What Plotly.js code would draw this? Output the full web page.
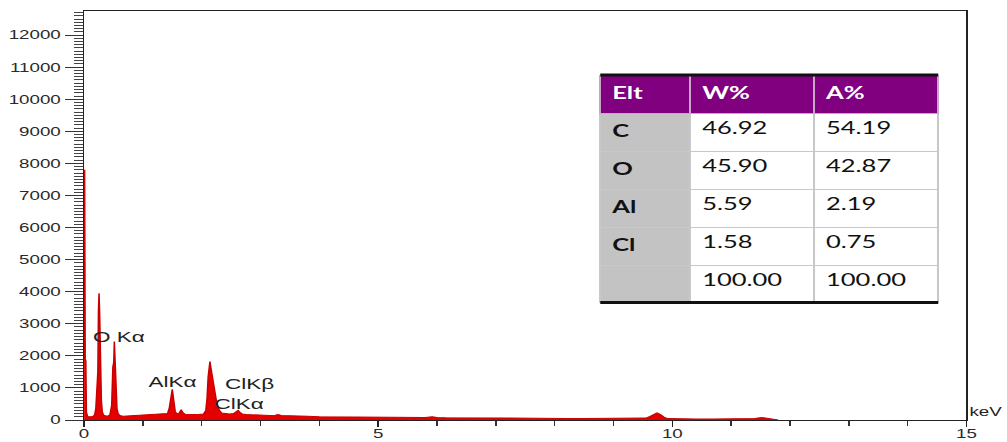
<!DOCTYPE html>
<html>
<head>
<meta charset="utf-8">
<script src="https://cdn.plot.ly/plotly-3.0.1.min.js"></script>
<style>
  html, body { margin: 0; padding: 0; background: #fff; overflow: hidden; }
  #wrap { width: 1007px; height: 442px; overflow: hidden; }
  /* the spectrum is laid out narrow and widened horizontally */
  #chart { width: 671px; height: 442px; transform: scaleX(1.5007); transform-origin: 0 0; }
</style>
</head>
<body>
<div id="wrap"><div id="chart"></div></div>
<script>
// EDS spectrum: energy (keV) and counts
const energyKeV = [
  0.00, 0.01, 0.02, 0.03, 0.04, 0.06, 0.09, 0.12, 0.15, 0.18,
  0.20, 0.22, 0.235, 0.245, 0.255, 0.265, 0.275, 0.285, 0.295, 0.31,
  0.33, 0.36, 0.40, 0.44, 0.47, 0.49, 0.505, 0.515, 0.525, 0.54,
  0.56, 0.58, 0.61, 0.66, 0.72, 0.80, 0.88, 0.96, 1.04, 1.12,
  1.20, 1.28, 1.36, 1.42, 1.45, 1.47, 1.49, 1.50, 1.51, 1.53,
  1.55, 1.58, 1.62, 1.65, 1.68, 1.72, 1.80, 1.88, 1.96, 2.03,
  2.07, 2.09, 2.11, 2.13, 2.14, 2.15, 2.17, 2.19, 2.21, 2.23,
  2.25, 2.27, 2.30, 2.34, 2.40, 2.47, 2.54, 2.59, 2.62, 2.65,
  2.69, 2.76, 2.85, 2.95, 3.05, 3.15, 3.25, 3.30, 3.35, 3.45,
  3.60, 3.80, 4.00, 4.20, 4.40, 4.60, 4.80, 5.00, 5.20, 5.40,
  5.60, 5.80, 5.92, 6.00, 6.15, 6.40, 6.70, 7.00, 7.30, 7.60,
  7.90, 8.20, 8.50, 8.80, 9.10, 9.40, 9.55, 9.62, 9.68, 9.74,
  9.80, 9.86, 9.92, 10.10, 10.40, 10.70, 11.00, 11.30, 11.40, 11.46,
  11.52, 11.58, 11.66, 11.75, 11.80
];
const counts = [
  1900, 7800, 1900, 1850, 250, 110, 100, 95, 110, 160,
  350, 1000, 1500, 3400, 3950, 3350, 1450, 1300, 600, 250,
  160, 130, 120, 160, 450, 1650, 1800, 2450, 1750, 900,
  350, 190, 140, 120, 125, 130, 135, 140, 150, 155,
  160, 170, 180, 200, 380, 700, 930, 960, 820, 480,
  260, 190, 220, 320, 230, 180, 170, 175, 180, 190,
  300, 650, 1350, 1700, 1820, 1700, 1450, 1250, 1050, 800,
  600, 450, 300, 220, 200, 190, 200, 260, 300, 240,
  190, 170, 160, 150, 145, 140, 150, 170, 140, 130,
  120, 115, 105, 100, 95, 90, 85, 80, 78, 75,
  72, 75, 100, 80, 70, 65, 62, 60, 58, 55,
  52, 50, 48, 46, 44, 45, 60, 110, 180, 220,
  170, 90, 45, 35, 30, 30, 28, 30, 45, 65,
  75, 60, 40, 25, 0
];

// peak labels
const peakLabels = ['O K\u03b1', 'AlK\u03b1', 'ClK\u03b2', 'ClK\u03b1'];
const peakLabelX = [0.59, 1.50, 2.81, 2.64];
const peakLabelY = [2590, 1215, 1150, 530];

// quantification table
const tableHeader = ['Elt', 'W%', 'A%'];
const elements = ['C', 'O', 'Al', 'Cl', ''];
const weightPct = ['46.92', '45.90', '5.59', '1.58', '100.00'];
const atomicPct = ['54.19', '42.87', '2.19', '0.75', '100.00'];

const spectrum = {
  type: 'scatter',
  mode: 'lines',
  x: energyKeV,
  y: counts,
  fill: 'tozeroy',
  fillcolor: '#e40000',
  line: { color: '#c80000', width: 1 },
  hoverinfo: 'skip'
};

const tableDom = { x: [0.585, 0.968], y: [0.284, 0.8435] };

const table = {
  type: 'table',
  domain: tableDom,
  columnwidth: [90, 124, 124],
  header: {
    values: tableHeader.map(t => '<b>' + t + '</b>'),
    fill: { color: '#800080' },
    font: { family: 'Lato, "Open Sans", sans-serif', size: 17, color: '#ffffff' },
    align: 'left',
    height: 38,
    line: { color: '#c9a6c9', width: 1 }
  },
  cells: {
    values: [elements.map(e => e ? '<b>' + e + '</b>' : ''), weightPct, atomicPct],
    fill: { color: ['#c3c3c3', '#ffffff', '#ffffff'] },
    font: { family: 'Lato, "Open Sans", sans-serif', size: 17, color: '#111111' },
    align: 'left',
    height: 38,
    line: { color: '#c8c8c8', width: 1 }
  }
};

const annotations = peakLabels.map((t, i) => ({
  x: peakLabelX[i], y: peakLabelY[i], xref: 'x', yref: 'y',
  text: t, showarrow: false, xanchor: 'center', yanchor: 'middle',
  font: { family: 'Liberation Sans, Arial, sans-serif', size: 15, color: '#222' }
}));
annotations.push({
  x: 1.0226, y: 0.02, xref: 'paper', yref: 'paper',
  text: 'keV', showarrow: false, xanchor: 'center', yanchor: 'middle',
  font: { family: 'Liberation Sans, Arial, sans-serif', size: 12.5, color: '#222' }
});

const layout = {
  width: 671,
  height: 442,
  margin: { l: 56, r: 27, t: 11, b: 22, pad: 0 },
  paper_bgcolor: '#ffffff',
  plot_bgcolor: '#ffffff',
  showlegend: false,
  hovermode: false,
  font: { family: 'Liberation Sans, Arial, sans-serif', size: 12.5, color: '#2a2a2a' },
  xaxis: {
    range: [0, 15], tick0: 0, dtick: 5,
    ticks: 'outside', ticklen: 6, tickwidth: 1, tickcolor: '#222',
    ticklabelstandoff: -4,
    showline: true, linecolor: '#222', linewidth: 1, mirror: true,
    showgrid: false, zeroline: false,
    minor: { dtick: 1, ticks: 'outside', ticklen: 5, tickcolor: '#333', showgrid: false },
    tickfont: { size: 12.5, color: '#2a2a2a' }
  },
  yaxis: {
    range: [0, 12750], tick0: 0, dtick: 1000, tickformat: 'd',
    ticks: 'outside', ticklen: 12, tickwidth: 1, tickcolor: '#333',
    showline: true, linecolor: '#222', linewidth: 1, mirror: true,
    showgrid: false, zeroline: false,
    minor: { dtick: 100, ticks: 'outside', ticklen: 6, tickcolor: '#444', showgrid: false },
    tickfont: { size: 12.5, color: '#2a2a2a' }
  },
  annotations: annotations,
  shapes: [
    { type: 'line', xref: 'paper', yref: 'paper', x0: tableDom.x[0], x1: tableDom.x[1],
      y0: 0.8435, y1: 0.8435, line: { color: '#111', width: 3 } },
    { type: 'line', xref: 'paper', yref: 'paper', x0: tableDom.x[0], x1: tableDom.x[1],
      y0: 0.2875, y1: 0.2875, line: { color: '#111', width: 3 } }
  ]
};

Plotly.newPlot('chart', [spectrum, table], layout, { staticPlot: true, displayModeBar: false });
</script>
</body>
</html>
